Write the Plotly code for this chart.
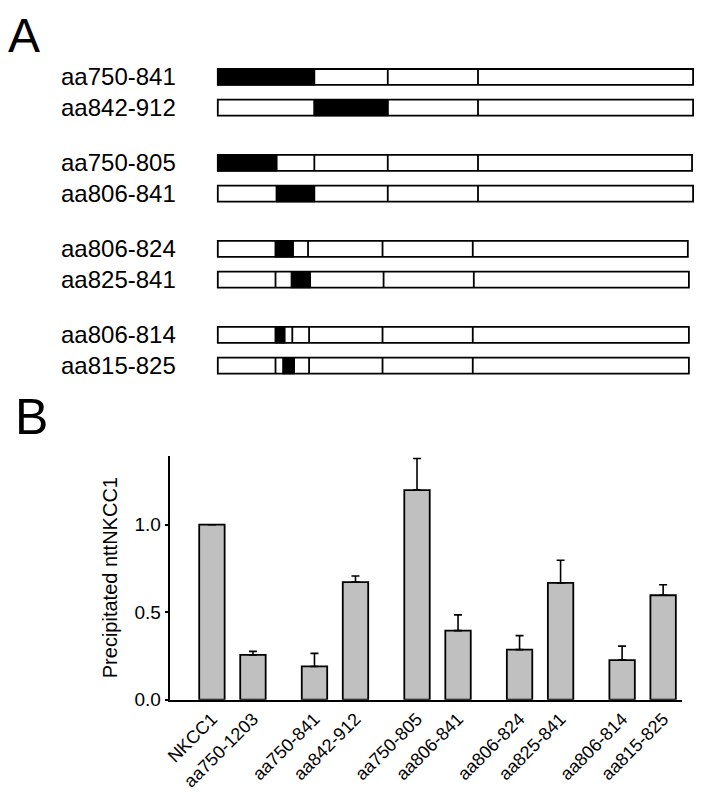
import plotly.graph_objects as go

# Panel A: constructs drawn as domain maps (amino-acid coordinates)
row_names = ["aa750-841", "aa842-912", "aa750-805", "aa806-841",
             "aa806-824", "aa825-841", "aa806-814", "aa815-825"]
row_start = [750, 750, 750, 750, 750, 750, 750, 750]
row_end = [1203, 1203, 1202, 1203, 1198, 1199, 1199, 1199]
row_dividers = [[842, 912, 998], [842, 912, 998], [806, 842, 912, 998], [806, 842, 912, 998],
                [805, 836, 907, 993], [805, 838, 908, 994], [805, 821, 837, 907, 993], [805, 837, 907, 993]]
black_from = [750, 842, 750, 806, 805, 820, 805, 812]
black_to = [842, 912, 806, 842, 822, 838, 814, 823]

# Panel B: precipitated nttNKCC1
bar_groups = [["NKCC1", "aa750-1203"], ["aa750-841", "aa842-912"], ["aa750-805", "aa806-841"],
              ["aa806-824", "aa825-841"], ["aa806-814", "aa815-825"]]
bar_values = [1.0, 0.256, 0.19, 0.672, 1.198, 0.395, 0.286, 0.667, 0.226, 0.597]
bar_errors = [None, 0.02, 0.075, 0.035, 0.18, 0.09, 0.08, 0.13, 0.08, 0.06]

FONT = "Liberation Sans, Arial, sans-serif"
OFF = 8                      # default body margin of the page
W, H = 703 - OFF, 799 - 2 * OFF


# screen pixel (as in the reference) -> figure pixel, small empirical correction
def fx(t):
    return (t - 5.6) / 0.9912 - OFF


def fy(t):
    return (t + 0.7) / 0.9897 - OFF


def px(t):
    return fx(t) / W


def py(t):
    return 1 - fy(t) / H


fig = go.Figure()

# ---- panel A ----
row_y = [(i // 2) * 2.8 + (i % 2) for i in range(len(row_names))]
hh = 0.26
for name, y, x0, x1, divs, b0, b1 in zip(row_names, row_y, row_start, row_end,
                                          row_dividers, black_from, black_to):
    fig.add_shape(type="rect", xref="x2", yref="y2", x0=x0, x1=x1, y0=y - hh, y1=y + hh,
                  fillcolor="white", line=dict(color="black", width=1.8))
    fig.add_shape(type="rect", xref="x2", yref="y2", x0=b0, x1=b1, y0=y - hh, y1=y + hh,
                  fillcolor="black", line=dict(color="black", width=1.2))
    for d in divs:
        fig.add_shape(type="line", xref="x2", yref="y2", x0=d, x1=d, y0=y - hh, y1=y + hh,
                      line=dict(color="black", width=1.8))
    fig.add_annotation(x=px(59), xref="paper", y=y, yref="y2", text=name, showarrow=False,
                       xanchor="left", yanchor="middle", font=dict(family=FONT, size=24, color="black"))

# invisible trace so the panel A axes exist
fig.add_trace(go.Scatter(x=[row_start[0]], y=[row_y[0]], xaxis="x2", yaxis="y2",
                         mode="markers", marker=dict(opacity=0), showlegend=False, hoverinfo="skip"))

# panel A axis ranges: left edge at 217 px = aa750, right edge at 692 px = aa1203
kx = (1203 - 750) / (fx(692.5) - fx(217.3))
x2_range = [750 - fx(217.3) * kx, 750 + (W - fx(217.3)) * kx]
ky = row_y[-1] / (fy(369) - fy(77))
y2_range = [(fy(399) - fy(77)) * ky, -fy(77) * ky]

# ---- panel B ----
bar_x, bar_labels = [], []
for g, grp in enumerate(bar_groups):
    for j, lab in enumerate(grp):
        bar_x.append(g * 2.5 + j)
        bar_labels.append(lab)

fig.add_trace(go.Bar(
    x=bar_x, y=bar_values, width=0.62,
    marker=dict(color="#c0c0c0", line=dict(color="black", width=1.8)),
    error_y=dict(type="data", array=bar_errors, arrayminus=[0] * len(bar_values),
                 symmetric=False, color="black", thickness=1.6, width=4),
    showlegend=False,
))

fig.update_layout(
    width=W, height=H,
    margin=dict(l=0, r=0, t=0, b=0),
    plot_bgcolor="white", paper_bgcolor="white",
    font=dict(family=FONT, color="black"),
    xaxis=dict(domain=[px(170), px(681)], range=[-1.01, 11.45],
               tickvals=bar_x, ticktext=bar_labels, tickangle=-45,
               tickfont=dict(size=18), showline=True, linecolor="black", linewidth=1.5,
               ticks="", showgrid=False, zeroline=False),
    yaxis=dict(domain=[py(707), py(460)], range=[0, 1.395],
               tickvals=[0, 0.5, 1.0], tickformat=".1f", tickfont=dict(size=19),
               ticks="outside", ticklen=4, tickcolor="black", tickwidth=1.5,
               showline=True, linecolor="black", linewidth=1.5,
               showgrid=False, zeroline=False,
               title=dict(text="Precipitated nttNKCC1", font=dict(size=20), standoff=12)),
    xaxis2=dict(domain=[0, 1], range=x2_range, anchor="y2",
                visible=False, showgrid=False, zeroline=False),
    yaxis2=dict(domain=[py(399), 1], range=y2_range, anchor="x2",
                visible=False, showgrid=False, zeroline=False),
)

# panel letters; "A" is pinned to the top edge so its text box stays inside the page
fig.add_annotation(x=px(24), y=1, xref="paper", yref="paper", text="A", showarrow=False,
                   xanchor="center", yanchor="top", borderpad=0,
                   font=dict(family=FONT, size=48, color="black"))
fig.add_annotation(x=px(31), y=py(421), xref="paper", yref="paper", text="B", showarrow=False,
                   xanchor="center", yanchor="middle", font=dict(family=FONT, size=50, color="black"))

fig.write_html("out.html")
